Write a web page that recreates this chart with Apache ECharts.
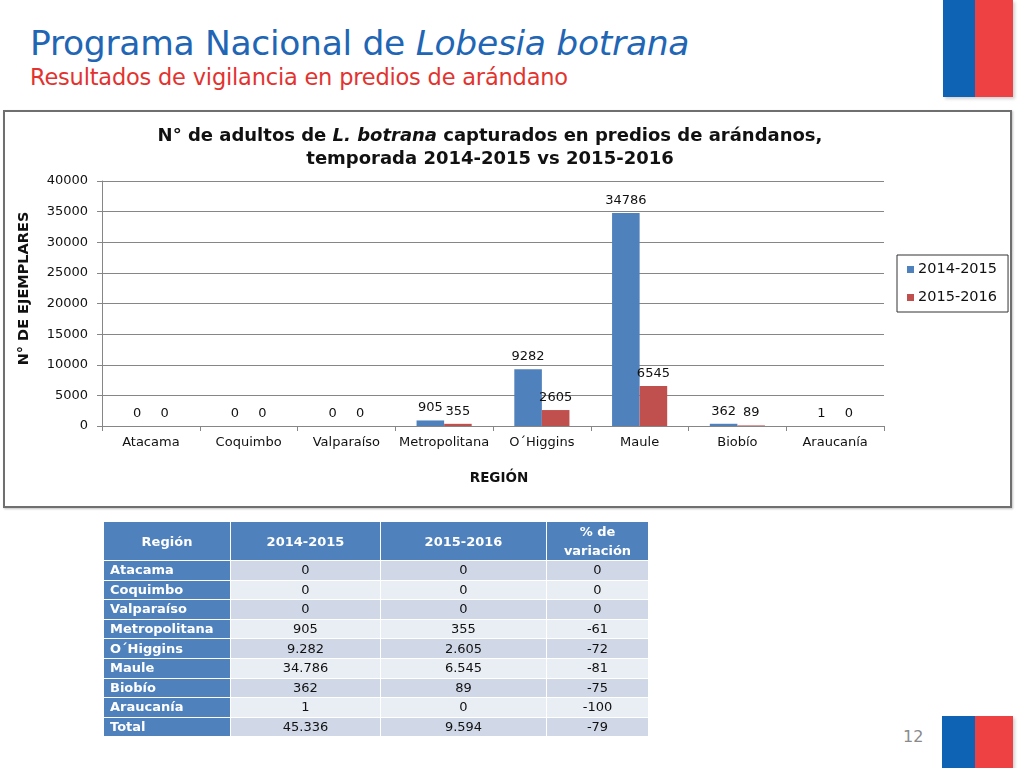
<!DOCTYPE html>
<html>
<head>
<meta charset="utf-8">
<script src="https://cdn.jsdelivr.net/npm/echarts@6/dist/echarts.min.js"></script>
<style>
  html, body { margin:0; padding:0; background:#fff; }
  body { width:1024px; height:768px; position:relative; overflow:hidden; font-family:"DejaVu Sans", Verdana, sans-serif; }
  #frame { position:absolute; left:3px; top:110px; width:1005px; height:394px; border:2px solid #6f6f6f; box-shadow:1px 1px 2px rgba(0,0,0,0.25); }
  #chart { position:absolute; left:0; top:0; width:1024px; height:768px; }
  .title { position:absolute; left:30px; top:23px; font-size:34.5px; color:#2165B5; white-space:nowrap; letter-spacing:-0.3px; }
  .subtitle { position:absolute; left:30px; top:64px; font-size:22.5px; color:#E2332F; white-space:nowrap; letter-spacing:-0.2px; }
  .flag { position:absolute; box-shadow:2px 2px 3px rgba(0,0,0,0.18); }
  .flag .b { position:absolute; left:0; top:0; height:100%; background:#0E63B5; }
  .flag .r { position:absolute; top:0; height:100%; background:#EE4143; }
  .pnum { position:absolute; left:903px; top:727px; font-size:16px; color:#8a8a8a; }
  table { position:absolute; left:103px; top:521px; border-collapse:collapse; table-layout:fixed; font-family:"DejaVu Sans", Verdana, sans-serif; font-size:13px; }
  td, th { border:1.5px solid #fff; padding:0; }
  tr.h { height:37px; }
  tr.d { height:19.6px; }
  th { background:#4F81BD; color:#fff; font-weight:bold; line-height:19px; }
  td.rg { background:#4F81BD; color:#fff; font-weight:bold; text-align:left; padding-left:6px; line-height:16px; }
  td.v { text-align:center; color:#111; line-height:16px; }
  tr.odd td.v { background:#D0D8E8; }
  tr.even td.v { background:#E9EDF4; }
</style>
</head>
<body>
<div class="title">Programa Nacional de <i>Lobesia botrana</i></div>
<div class="subtitle">Resultados de vigilancia en predios de arándano</div>
<div class="flag" style="left:943px;top:0;width:70px;height:97px;"><div class="b" style="width:32px"></div><div class="r" style="left:32px;width:38px"></div></div>
<div class="flag" style="left:942px;top:716px;width:71px;height:60px;"><div class="b" style="width:33px"></div><div class="r" style="left:33px;width:38px"></div></div>
<div class="pnum">12</div>
<div id="frame"></div>
<div id="chart"></div>
<table id="tbl"></table>
<script>
const categories = ['Atacama','Coquimbo','Valparaíso','Metropolitana','O´Higgins','Maule','Biobío','Araucanía'];
const values2014 = [0, 0, 0, 905, 9282, 34786, 362, 1];
const values2015 = [0, 0, 0, 355, 2605, 6545, 89, 0];
const seriesNames = ['2014-2015', '2015-2016'];

const tableHeaders = ['Región', '2014-2015', '2015-2016', '% de<br>variación'];
const tableRegions = ['Atacama','Coquimbo','Valparaíso','Metropolitana','O´Higgins','Maule','Biobío','Araucanía','Total'];
const table2014 = ['0','0','0','905','9.282','34.786','362','1','45.336'];
const table2015 = ['0','0','0','355','2.605','6.545','89','0','9.594'];
const tableVariation = ['0','0','0','-61','-72','-81','-75','-100','-79'];

// Build table
const colW = [127, 150, 166, 102];
let html = '<colgroup>' + colW.map(w=>'<col style="width:'+w+'px">').join('') + '</colgroup>';
html += '<tr class="h">' + tableHeaders.map(h=>'<th>'+h+'</th>').join('') + '</tr>';
tableRegions.forEach((r,i)=>{
  html += '<tr class="d '+(i%2===0?'odd':'even')+'"><td class="rg">'+r+'</td><td class="v">'+table2014[i]+'</td><td class="v">'+table2015[i]+'</td><td class="v">'+tableVariation[i]+'</td></tr>';
});
const tbl = document.getElementById('tbl');
tbl.innerHTML = html;
tbl.style.width = colW.reduce((a,b)=>a+b,0) + 'px';

const chart = echarts.init(document.getElementById('chart'), null, {renderer:'canvas'});
const font = '"DejaVu Sans", Verdana, sans-serif';
const lbl = { show:true, position:'top', distance:6, color:'#111', fontSize:13, fontFamily:font };
chart.setOption({
  animation:false,
  textStyle:{ fontFamily:font },
  title:{
    left:485, top:120, textAlign:'center',
    text:'{b|N° de adultos de }{bi|L. botrana}{b| capturados en predios de arándanos,}\n{b|temporada 2014-2015 vs 2015-2016}',
    textStyle:{
      rich:{
        b:{ fontSize:18, fontWeight:'bold', color:'#111', fontFamily:font, lineHeight:23 },
        bi:{ fontSize:18, fontWeight:'bold', fontStyle:'italic', color:'#111', fontFamily:font, lineHeight:23 }
      }
    }
  },
  legend:{
    orient:'vertical', left:897, top:255,
    padding:[7,11,7,10], itemGap:13,
    borderColor:'#333', borderWidth:1,
    itemWidth:7, itemHeight:7, icon:'rect',
    textStyle:{ fontSize:14.5, color:'#111', fontFamily:font, padding:[0,0,0,-1] },
    data:seriesNames
  },
  grid:{ left:102, right:140, top:181, bottom:342 },
  xAxis:{
    type:'category', data:categories,
    axisLine:{ lineStyle:{ color:'#868686' } },
    axisTick:{ show:true, alignWithLabel:false, length:5, lineStyle:{ color:'#868686' } },
    axisLabel:{ color:'#111', fontSize:13, margin:10, fontFamily:font, interval:0 },
    name:'REGIÓN', nameLocation:'middle', nameGap:45,
    nameTextStyle:{ fontWeight:'bold', fontSize:13.5, color:'#111', fontFamily:font, padding:[0,0,0,12] }
  },
  yAxis:{
    type:'value', min:0, max:40000, interval:5000,
    axisLine:{ show:true, lineStyle:{ color:'#868686' } },
    axisTick:{ show:true, length:5, lineStyle:{ color:'#868686' } },
    axisLabel:{ color:'#111', fontSize:13, margin:14, fontFamily:font, formatter:(v)=>String(v) },
    splitLine:{ lineStyle:{ color:'#868686' } },
    name:'N° DE EJEMPLARES', nameLocation:'middle', nameGap:70, nameRotate:90,
    nameTextStyle:{ fontWeight:'bold', fontSize:14.5, color:'#111', fontFamily:font, padding:[0,0,0,30] }
  },
  series:[
    { name:seriesNames[0], type:'bar', data:values2014, barWidth:'28.2%', barGap:'0%', itemStyle:{ color:'#4F81BD' }, label:lbl },
    { name:seriesNames[1], type:'bar', data:values2015, barWidth:'28.2%', barGap:'0%', itemStyle:{ color:'#C0504D' }, label:lbl }
  ]
});
</script>
</body>
</html>
